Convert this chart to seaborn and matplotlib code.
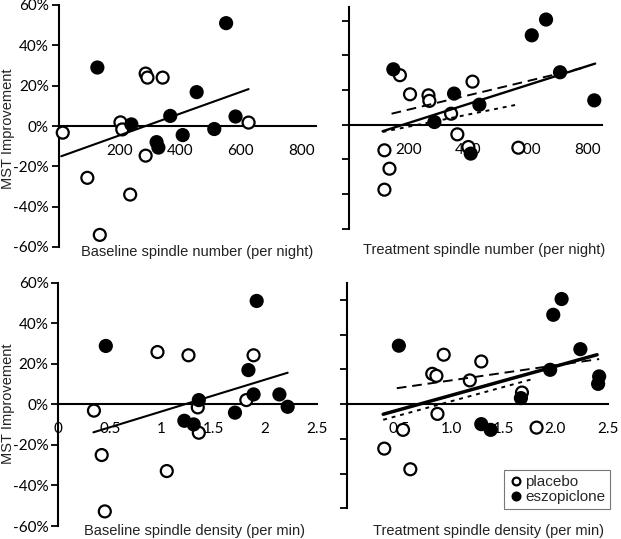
import numpy as np
import pandas as pd
import matplotlib
matplotlib.use("Agg")
import matplotlib.pyplot as plt
import matplotlib.transforms as mtransforms
import seaborn as sns

# baseline spindle number (per night)
bn_placebo_x = [14, 204, 210, 287, 293, 343, 287, 95, 236, 136, 626]
bn_placebo_y = [-3.3, 1.8, -1.7, 26, 24, 24, -14.7, -25.7, -34, -54, 1.7]
bn_eszo_x = [128, 552, 240, 455, 368, 323, 329, 409, 513, 583]
bn_eszo_y = [29, 51, 0.8, 16.8, 5, -8, -10.7, -4.5, -1.5, 4.7]
bn_fit_x = [9, 626]
bn_fit_y = [-15, 18.3]

# treatment spindle number (per night)
tn_placebo_x = [171, 205, 267, 270, 343, 415, 364, 401, 569, 119, 136, 119]
tn_placebo_y = [28.5, 17.5, 16.9, 13.7, 6.3, 24.8, -5.6, -12.9, -13.3, -14.8, -25.4, -37.5]
tn_eszo_x = [149, 614, 662, 709, 824, 353, 438, 287, 409]
tn_eszo_y = [31.9, 51.5, 60.6, 30.2, 14, 17.9, 11.5, 1.5, -16.7]
tn_fit_x = [113, 827]
tn_fit_y = [-3.8, 35.2]
tn_fit_placebo_x = [143, 799]
tn_fit_placebo_y = [6.3, 33.3]
tn_fit_eszo_x = [113, 569]
tn_fit_eszo_y = [-4.2, 11.7]

# baseline spindle density (per min)
bd_placebo_x = [0.345, 0.96, 1.26, 1.35, 1.36, 1.82, 1.89, 0.42, 1.05, 0.45]
bd_placebo_y = [-3.1, 25.8, 24.2, -1.5, -14, 2.1, 24.2, -25, -32.9, -52.8]
bd_eszo_x = [0.46, 1.92, 1.84, 1.89, 2.14, 2.22, 1.71, 1.36, 1.22, 1.31]
bd_eszo_y = [28.8, 51, 16.9, 4.9, 4.9, -1.2, -4.1, 2.1, -8.1, -9.9]
bd_fit_x = [0.34, 2.22]
bd_fit_y = [-13.8, 15.6]

# treatment spindle density (per min)
td_placebo_x = [0.93, 0.82, 0.86, 1.18, 1.29, 1.68, 0.87, 0.54, 1.82, 0.36, 0.61]
td_placebo_y = [28.5, 17.5, 16.3, 13.7, 24.6, 6.7, -5.6, -14.8, -13.5, -25.6, -37.5]
td_eszo_x = [0.50, 2.06, 1.98, 2.24, 1.95, 2.42, 2.41, 1.67, 1.29, 1.38]
td_eszo_y = [33.7, 60.6, 51.5, 31.7, 19.8, 16, 11.7, 3.5, -11.5, -14.8]
td_fit_x = [0.35, 2.40]
td_fit_y = [-5.8, 28.5]
td_fit_placebo_x = [0.48, 2.42]
td_fit_placebo_y = [9.2, 26]
td_fit_eszo_x = [0.35, 1.79]
td_fit_eszo_y = [-9, 14.6]

y_ticks = [-60, -40, -20, 0, 20, 40, 60]
y_ticklabels = ["-60%", "-40%", "-20%", "0%", "20%", "40%", "60%"]
num_ticks = [200, 400, 600, 800]
num_ticklabels = ["200", "400", "600", "800"]
bd_ticks = [0, 0.5, 1, 1.5, 2, 2.5]
bd_ticklabels = ["0", "0.5", "1", "1.5", "2", "2.5"]
td_ticks = [0.5, 1.0, 1.5, 2.0, 2.5]
td_ticklabels = ["0.5", "1.0", "1.5", "2.0", "2.5"]

sns.set_theme(style="white")
plt.rcParams["font.family"] = ["Liberation Sans", "DejaVu Sans"]

W, H = 621, 539
fig = plt.figure(figsize=(W / 100, H / 100), dpi=100)
shift = mtransforms.ScaledTranslation(3 / 100, 0, fig.dpi_scale_trans)


def px_axes(left, top, right, bottom):
    return fig.add_axes([left / W, 1 - bottom / H, (right - left) / W, (bottom - top) / H])


def make_df(px, py, ex, ey):
    return pd.DataFrame({
        "x": list(px) + list(ex),
        "y": list(py) + list(ey),
        "group": ["placebo"] * len(px) + ["eszopiclone"] * len(ex),
    })


def style_axis(ax, xlim, ylim, xticks, xlabels, ylabels):
    ax.set_xlim(xlim)
    ax.set_ylim(ylim)
    ax.spines["bottom"].set_position(("data", 0))
    ax.spines["top"].set_visible(False)
    ax.spines["right"].set_visible(False)
    for s in ("left", "bottom"):
        ax.spines[s].set_linewidth(1.5)
        ax.spines[s].set_color("black")
    ax.set_xticks(xticks)
    ax.set_xticklabels(xlabels, fontfamily="Lato", fontsize=11)
    for lab in ax.get_xticklabels():
        lab.set_transform(lab.get_transform() + shift)
    ax.set_yticks(y_ticks)
    ax.set_yticklabels(ylabels, fontfamily="Lato", fontsize=11)
    ax.tick_params(axis="x", direction="in", length=4, width=1.3, pad=13, colors="black")
    ax.tick_params(axis="y", direction="out", length=5, width=1.3, pad=2, colors="black",
                   left=True)
    ax.set_xlabel("")
    ax.set_ylabel("")
    ax.patch.set_alpha(0)


def points(ax, df, legend=False):
    sns.scatterplot(data=df, x="x", y="y", hue="group",
                    palette={"placebo": "white", "eszopiclone": "black"},
                    edgecolor="black", linewidth=1.6, s=74, ax=ax,
                    legend=legend, zorder=4, clip_on=False)


ax1 = px_axes(58.5, 5, 316, 247)
ax2 = px_axes(349, 6.7, 602, 228.7)
ax3 = px_axes(58.3, 282.7, 316.6, 526)
ax4 = px_axes(346.7, 282.7, 607.5, 508.3)

points(ax1, make_df(bn_placebo_x, bn_placebo_y, bn_eszo_x, bn_eszo_y))
sns.lineplot(x=bn_fit_x, y=bn_fit_y, color="black", linewidth=1.5, ax=ax1, zorder=5)
style_axis(ax1, (0, 848), (-60, 60), num_ticks, num_ticklabels, y_ticklabels)

points(ax2, make_df(tn_placebo_x, tn_placebo_y, tn_eszo_x, tn_eszo_y))
sns.lineplot(x=tn_fit_x, y=tn_fit_y, color="black", linewidth=1.7, ax=ax2, zorder=5)
sns.lineplot(x=tn_fit_placebo_x, y=tn_fit_placebo_y, color="black", linewidth=1.4,
             linestyle=(0, (5, 3)), ax=ax2, zorder=5)
sns.lineplot(x=tn_fit_eszo_x, y=tn_fit_eszo_y, color="black", linewidth=1.4,
             linestyle=(0, (2, 2.5)), ax=ax2, zorder=5)
style_axis(ax2, (0, 850), (-60, 68), num_ticks, num_ticklabels, [""] * 7)

points(ax3, make_df(bd_placebo_x, bd_placebo_y, bd_eszo_x, bd_eszo_y))
sns.lineplot(x=bd_fit_x, y=bd_fit_y, color="black", linewidth=1.5, ax=ax3, zorder=5)
style_axis(ax3, (0, 2.5), (-60, 60), bd_ticks, bd_ticklabels, y_ticklabels)

points(ax4, make_df(td_placebo_x, td_placebo_y, td_eszo_x, td_eszo_y), legend=True)
sns.lineplot(x=td_fit_x, y=td_fit_y, color="black", linewidth=2.5, ax=ax4, zorder=5)
sns.lineplot(x=td_fit_placebo_x, y=td_fit_placebo_y, color="black", linewidth=1.4,
             linestyle=(0, (5, 3)), ax=ax4, zorder=5)
sns.lineplot(x=td_fit_eszo_x, y=td_fit_eszo_y, color="black", linewidth=1.4,
             linestyle=(0, (2, 2.5)), ax=ax4, zorder=5)
style_axis(ax4, (0, 2.5), (-60, 70), td_ticks, td_ticklabels, [""] * 7)

old = ax4.get_legend()
handles = old.legend_handles
labels = [t.get_text() for t in old.get_texts()]
old.remove()
leg = ax4.legend(handles, labels, loc="lower right",
                 bbox_to_anchor=(610 / W, 1 - 509 / H), bbox_transform=fig.transFigure,
                 frameon=True, fancybox=False, edgecolor="#555555", markerscale=0.65,
                 handletextpad=0.1, borderpad=0.3, labelspacing=0.1,
                 handlelength=1.0, borderaxespad=0, fontsize=11)
leg.get_frame().set_linewidth(0.8)

label_kw = dict(ha="center", va="center", fontsize=10.5, color="#222222")
fig.text(8 / W, 1 - 129 / H, "MST Improvement", rotation=90, **label_kw)
fig.text(8 / W, 1 - 404 / H, "MST Improvement", rotation=90, **label_kw)
fig.text(197 / W, 1 - 252 / H, "Baseline spindle number (per night)", **label_kw)
fig.text(484 / W, 1 - 250 / H, "Treatment spindle number (per night)", **label_kw)
fig.text(195 / W, 1 - 531 / H, "Baseline spindle density (per min)", **label_kw)
fig.text(488 / W, 1 - 531 / H, "Treatment spindle density (per min)", **label_kw)

fig.savefig("out.png", dpi=100, facecolor="white")
